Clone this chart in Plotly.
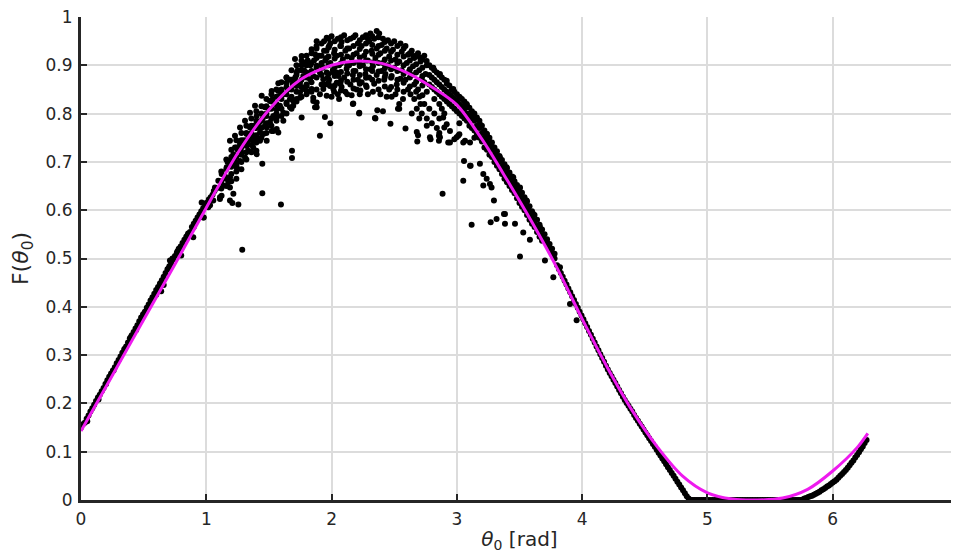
import plotly.graph_objects as go

# ---- fitted curve F(theta0) ----
curve_x = [0.0, 0.25, 0.5, 0.75, 1.0, 1.25, 1.5, 1.75, 2.0, 2.2, 2.4, 2.6, 2.8, 3.0,
           3.2, 3.4, 3.6, 3.8, 4.0, 4.2, 4.4, 4.6, 4.8, 5.0, 5.2, 5.4, 5.6, 5.8, 6.0, 6.2, 6.28]
curve_y = [0.143, 0.258, 0.373, 0.488, 0.605, 0.718, 0.808, 0.870, 0.900, 0.909, 0.904, 0.885,
           0.855, 0.818, 0.747, 0.663, 0.575, 0.480, 0.375, 0.275, 0.185, 0.110, 0.050, 0.015,
           0.002, 0.0, 0.004, 0.022, 0.060, 0.110, 0.138]

# ---- measured points, grouped by region ----
dots_rise = [(0.00, 0.150), (0.03, 0.160), (0.06, 0.175), (0.09, 0.190), (0.12, 0.205), (0.15, 0.218),
             (0.18, 0.232), (0.21, 0.248), (0.24, 0.262), (0.27, 0.275), (0.30, 0.290), (0.33, 0.305),
             (0.36, 0.318), (0.39, 0.335), (0.42, 0.348), (0.45, 0.362), (0.48, 0.378), (0.51, 0.390),
             (0.54, 0.405), (0.57, 0.420), (0.60, 0.435), (0.63, 0.448), (0.66, 0.462), (0.69, 0.478),
             (0.72, 0.490), (0.75, 0.505), (0.78, 0.520), (0.81, 0.532), (0.84, 0.545), (0.87, 0.555),
             (0.90, 0.572), (0.93, 0.585), (0.96, 0.598), (0.99, 0.610), (1.02, 0.622), (1.05, 0.632),
             (1.08, 0.645), (0.05, 0.163), (0.14, 0.208), (0.20, 0.240), (0.26, 0.268), (0.35, 0.313),
             (0.40, 0.338), (0.44, 0.352), (0.50, 0.385), (0.56, 0.410), (0.60, 0.425), (0.62, 0.440),
             (0.64, 0.432), (0.66, 0.445), (0.70, 0.480), (0.73, 0.500), (0.77, 0.515), (0.80, 0.520),
             (0.85, 0.548), (0.90, 0.565), (0.95, 0.590), (0.98, 0.585), (1.00, 0.615), (1.03, 0.610),
             (1.06, 0.640), (0.71, 0.496), (0.80, 0.506), (0.896, 0.544), (0.976, 0.585), (1.016, 0.606),
             (0.963, 0.616), (1.109, 0.623), (1.122, 0.630), (1.069, 0.647), (1.176, 0.658),
             (0.015, 0.157), (0.045, 0.168), (0.075, 0.183), (0.105, 0.197), (0.135, 0.212),
             (0.165, 0.225), (0.195, 0.240), (0.225, 0.255), (0.255, 0.268), (0.285, 0.283),
             (0.315, 0.297), (0.345, 0.312), (0.375, 0.326), (0.405, 0.341), (0.435, 0.355),
             (0.465, 0.370), (0.495, 0.384), (0.525, 0.398), (0.555, 0.413), (0.585, 0.427),
             (0.615, 0.441), (0.645, 0.455), (0.675, 0.470), (0.705, 0.484), (0.735, 0.498),
             (0.765, 0.512), (0.795, 0.525), (0.825, 0.539), (0.855, 0.552), (0.885, 0.565),
             (0.915, 0.578), (0.945, 0.591), (0.975, 0.604), (1.005, 0.615), (1.035, 0.627),
             (1.065, 0.640)]

dots_shoulder = [(1.096, 0.661), (1.123, 0.675), (1.163, 0.689), (1.189, 0.702), (1.216, 0.716),
                 (1.229, 0.730), (1.269, 0.737), (1.322, 0.758), (1.349, 0.771), (1.402, 0.795),
                 (1.468, 0.813), (1.508, 0.826), (1.575, 0.847), (1.641, 0.864), (1.721, 0.885),
                 (1.788, 0.906), (1.868, 0.923), (1.136, 0.651), (1.189, 0.668), (1.243, 0.689),
                 (1.269, 0.702), (1.309, 0.709), (1.335, 0.723), (1.375, 0.730), (1.402, 0.716),
                 (1.429, 0.744), (1.375, 0.744), (1.455, 0.758), (1.482, 0.771), (1.535, 0.764),
                 (1.562, 0.792), (1.615, 0.785), (1.668, 0.813), (1.694, 0.826), (1.748, 0.833),
                 (1.761, 0.792), (1.801, 0.847), (1.854, 0.826), (1.881, 0.813), (1.189, 0.647),
                 (1.216, 0.634), (1.189, 0.620), (1.109, 0.627), (1.056, 0.620), (1.189, 0.744),
                 (1.229, 0.754), (1.269, 0.771), (1.309, 0.785), (1.349, 0.802), (1.389, 0.816),
                 (1.442, 0.837), (1.522, 0.847), (1.575, 0.863), (1.641, 0.875), (1.708, 0.913),
                 (1.761, 0.919), (1.841, 0.933), (1.881, 0.950), (1.961, 0.957), (1.322, 0.733),
                 (1.362, 0.747), (1.402, 0.751), (1.429, 0.761), (1.468, 0.775), (1.508, 0.782),
                 (1.535, 0.795), (1.562, 0.809), (1.588, 0.816), (1.615, 0.802), (1.641, 0.823),
                 (1.668, 0.830), (1.694, 0.816), (1.721, 0.830), (1.748, 0.844), (1.774, 0.851),
                 (1.801, 0.857), (1.841, 0.851), (1.854, 0.833), (1.881, 0.823), (1.868, 0.813),
                 (1.907, 0.840), (1.934, 0.851), (1.961, 0.837), (1.987, 0.857), (2.014, 0.851),
                 (2.041, 0.864), (1.828, 0.871), (1.854, 0.878), (1.801, 0.885), (1.774, 0.878),
                 (1.748, 0.864), (1.721, 0.857), (1.881, 0.899), (1.907, 0.885), (1.961, 0.885),
                 (1.934, 0.871), (2.014, 0.885), (2.054, 0.878), (1.562, 0.768), (1.575, 0.761),
                 (1.522, 0.764), (1.482, 0.744), (1.15, 0.670), (1.17, 0.700), (1.20, 0.690),
                 (1.23, 0.700), (1.25, 0.725), (1.28, 0.720), (1.30, 0.745), (1.33, 0.740),
                 (1.36, 0.760), (1.38, 0.775), (1.42, 0.780), (1.45, 0.790), (1.48, 0.800),
                 (1.50, 0.810), (1.53, 0.830), (1.55, 0.820), (1.58, 0.835), (1.60, 0.850),
                 (1.62, 0.840), (1.65, 0.850), (1.67, 0.870), (1.69, 0.860), (1.71, 0.875),
                 (1.73, 0.890), (1.76, 0.900), (1.78, 0.890), (1.81, 0.910), (1.83, 0.900),
                 (1.86, 0.910), (1.88, 0.935), (1.90, 0.920), (1.92, 0.905), (1.94, 0.930),
                 (1.96, 0.915), (1.98, 0.940),
                 (1.12, 0.68), (1.12, 0.66), (1.12, 0.645), (1.16, 0.705), (1.16, 0.685),
                 (1.16, 0.665), (1.16, 0.65), (1.20, 0.725), (1.20, 0.71), (1.20, 0.695),
                 (1.20, 0.675), (1.20, 0.66), (1.24, 0.745), (1.24, 0.73), (1.24, 0.71),
                 (1.24, 0.695), (1.24, 0.68), (1.24, 0.665), (1.28, 0.76), (1.28, 0.745),
                 (1.28, 0.73), (1.28, 0.715), (1.28, 0.70), (1.28, 0.685), (1.32, 0.775),
                 (1.32, 0.76), (1.32, 0.745), (1.32, 0.72), (1.32, 0.705), (1.36, 0.79),
                 (1.36, 0.775), (1.36, 0.755), (1.36, 0.735), (1.36, 0.72), (1.40, 0.805),
                 (1.40, 0.785), (1.40, 0.77), (1.40, 0.755), (1.40, 0.74), (1.44, 0.815),
                 (1.44, 0.80), (1.44, 0.785), (1.44, 0.77), (1.44, 0.75), (1.48, 0.83),
                 (1.48, 0.815), (1.48, 0.795), (1.48, 0.78), (1.48, 0.76), (1.52, 0.84),
                 (1.52, 0.825), (1.52, 0.81), (1.52, 0.79), (1.52, 0.775), (1.56, 0.85),
                 (1.56, 0.835), (1.56, 0.82), (1.56, 0.80), (1.56, 0.785), (1.60, 0.865),
                 (1.60, 0.845), (1.60, 0.83), (1.60, 0.81), (1.60, 0.795), (1.64, 0.875),
                 (1.64, 0.855), (1.64, 0.84), (1.64, 0.82), (1.64, 0.80), (1.68, 0.89),
                 (1.68, 0.87), (1.68, 0.85), (1.68, 0.835), (1.68, 0.81), (1.72, 0.90),
                 (1.72, 0.88), (1.72, 0.865), (1.72, 0.845), (1.72, 0.825), (1.76, 0.91),
                 (1.76, 0.89), (1.76, 0.87), (1.76, 0.855), (1.76, 0.835), (1.80, 0.92),
                 (1.80, 0.90), (1.80, 0.875), (1.80, 0.86), (1.80, 0.84), (1.84, 0.925),
                 (1.84, 0.905), (1.84, 0.888), (1.84, 0.865), (1.84, 0.845), (1.88, 0.94),
                 (1.88, 0.915), (1.88, 0.895), (1.88, 0.875), (1.88, 0.85), (1.92, 0.945),
                 (1.92, 0.92), (1.92, 0.90), (1.92, 0.88), (1.92, 0.86)]

dots_stray = [(1.287, 0.518), (1.447, 0.635), (1.596, 0.612), (1.256, 0.612), (1.208, 0.615),
              (1.684, 0.723), (1.684, 0.708), (1.447, 0.696), (1.907, 0.754), (1.947, 0.793),
              (1.40, 0.723), (1.99, 0.780), (2.173, 0.821), (2.221, 0.802), (2.346, 0.791),
              (2.365, 0.807), (2.54, 0.810), (2.47, 0.779), (2.68, 0.762), (2.69, 0.755),
              (2.79, 0.747), (2.86, 0.760), (2.90, 0.771), (2.98, 0.747), (3.02, 0.757),
              (2.684, 0.742), (2.785, 0.751), (2.857, 0.754), (2.857, 0.744), (2.945, 0.740),
              (2.998, 0.751), (3.051, 0.740), (2.886, 0.634), (3.057, 0.702), (3.051, 0.661),
              (3.11, 0.692), (3.211, 0.651), (3.118, 0.570), (3.27, 0.575), (3.317, 0.582),
              (3.376, 0.592), (3.504, 0.504), (3.583, 0.539), (3.296, 0.620), (3.184, 0.696),
              (2.891, 0.792), (2.919, 0.778), (2.945, 0.764), (2.865, 0.751), (2.931, 0.740),
              (3.011, 0.754), (3.065, 0.744), (3.105, 0.740), (3.105, 0.692), (3.238, 0.665),
              (3.264, 0.654), (3.277, 0.647), (3.211, 0.675), (3.384, 0.592), (3.384, 0.572),
              (3.464, 0.572), (3.53, 0.554), (3.703, 0.496), (3.77, 0.461), (3.903, 0.406),
              (3.956, 0.372)]

dots_peak = [(1.94, 0.95), (1.96, 0.93), (1.95, 0.91), (1.93, 0.895), (1.97, 0.875), (1.95, 0.86),
             (2.00, 0.96), (1.99, 0.945), (2.02, 0.925), (1.99, 0.905), (2.01, 0.89), (1.98, 0.87),
             (2.02, 0.845), (2.05, 0.955), (2.07, 0.94), (2.04, 0.92), (2.06, 0.90), (2.04, 0.885),
             (2.07, 0.862), (2.05, 0.84), (2.10, 0.962), (2.08, 0.948), (2.11, 0.93), (2.09, 0.912),
             (2.12, 0.893), (2.10, 0.875), (2.08, 0.855), (2.15, 0.955), (2.14, 0.935), (2.16, 0.915),
             (2.14, 0.90), (2.17, 0.88), (2.15, 0.86), (2.17, 0.82), (2.19, 0.962), (2.21, 0.945),
             (2.20, 0.925), (2.22, 0.905), (2.19, 0.888), (2.21, 0.87), (2.20, 0.85), (2.22, 0.80),
             (2.25, 0.958), (2.24, 0.94), (2.26, 0.92), (2.25, 0.90), (2.27, 0.882), (2.24, 0.865),
             (2.29, 0.955), (2.31, 0.966), (2.30, 0.95), (2.32, 0.93), (2.29, 0.91), (2.31, 0.892),
             (2.30, 0.875), (2.28, 0.855), (2.36, 0.971), (2.34, 0.955), (2.36, 0.935), (2.35, 0.915),
             (2.33, 0.898), (2.36, 0.88), (2.34, 0.862), (2.35, 0.79), (2.38, 0.966), (2.41, 0.955),
             (2.40, 0.942), (2.39, 0.925), (2.41, 0.905), (2.40, 0.888), (2.42, 0.87), (2.41, 0.805),
             (2.45, 0.952), (2.44, 0.935), (2.46, 0.918), (2.45, 0.90), (2.43, 0.882), (2.44, 0.835),
             (2.50, 0.95), (2.49, 0.932), (2.51, 0.912), (2.50, 0.895), (2.48, 0.878), (2.52, 0.86),
             (2.48, 0.835), (2.55, 0.945), (2.56, 0.928), (2.54, 0.908), (2.56, 0.89), (2.55, 0.872),
             (2.53, 0.81), (2.54, 0.82), (2.59, 0.94), (2.61, 0.922), (2.60, 0.905), (2.62, 0.888),
             (2.59, 0.87), (2.61, 0.85), (2.59, 0.769), (2.64, 0.93), (2.66, 0.915), (2.65, 0.898),
             (2.64, 0.88), (2.66, 0.86), (2.69, 0.925), (2.71, 0.908), (2.70, 0.89), (2.72, 0.872),
             (2.69, 0.85), (2.71, 0.82), (2.74, 0.92), (2.76, 0.90), (2.75, 0.882), (2.74, 0.865),
             (2.76, 0.845), (2.66, 0.83), (2.68, 0.81), (2.70, 0.835), (2.72, 0.80), (2.74, 0.82),
             (2.76, 0.79), (2.78, 0.81), (2.80, 0.78), (2.82, 0.80), (2.84, 0.77), (2.86, 0.79),
             (2.88, 0.81), (2.76, 0.775), (2.70, 0.79), (2.64, 0.80),
             (1.975, 0.955), (1.975, 0.937), (1.975, 0.918), (1.975, 0.90), (1.975, 0.882),
             (1.975, 0.864), (2.025, 0.95), (2.025, 0.932), (2.025, 0.914), (2.025, 0.896),
             (2.025, 0.878), (2.025, 0.858), (2.075, 0.958), (2.075, 0.94), (2.075, 0.922),
             (2.075, 0.904), (2.075, 0.886), (2.075, 0.868), (2.075, 0.848), (2.125, 0.952),
             (2.125, 0.935), (2.125, 0.918), (2.125, 0.90), (2.125, 0.883), (2.125, 0.866),
             (2.125, 0.84), (2.175, 0.958), (2.175, 0.94), (2.175, 0.922), (2.175, 0.905),
             (2.175, 0.888), (2.175, 0.87), (2.175, 0.852), (2.225, 0.952), (2.225, 0.934),
             (2.225, 0.916), (2.225, 0.898), (2.225, 0.88), (2.225, 0.862), (2.225, 0.84),
             (2.275, 0.962), (2.275, 0.945), (2.275, 0.928), (2.275, 0.91), (2.275, 0.892),
             (2.275, 0.874), (2.275, 0.858), (2.325, 0.96), (2.325, 0.942), (2.325, 0.924),
             (2.325, 0.906), (2.325, 0.888), (2.325, 0.87), (2.375, 0.958), (2.375, 0.94),
             (2.375, 0.922), (2.375, 0.905), (2.375, 0.887), (2.375, 0.868), (2.375, 0.85),
             (2.425, 0.948), (2.425, 0.93), (2.425, 0.912), (2.425, 0.894), (2.425, 0.876),
             (2.425, 0.856), (2.475, 0.945), (2.475, 0.928), (2.475, 0.91), (2.475, 0.892),
             (2.475, 0.874), (2.475, 0.855), (2.525, 0.94), (2.525, 0.922), (2.525, 0.905),
             (2.525, 0.888), (2.525, 0.87), (2.525, 0.85), (2.575, 0.935), (2.575, 0.918),
             (2.575, 0.90), (2.575, 0.882), (2.575, 0.864), (2.575, 0.845), (2.625, 0.925),
             (2.625, 0.91), (2.625, 0.892), (2.625, 0.875), (2.625, 0.856), (2.675, 0.92),
             (2.675, 0.902), (2.675, 0.885), (2.675, 0.866), (2.675, 0.845), (2.725, 0.912),
             (2.725, 0.895), (2.725, 0.878), (2.725, 0.858), (2.725, 0.838),
             (2.00, 0.835), (2.06, 0.83), (2.11, 0.845), (2.16, 0.838), (2.23, 0.848),
             (2.29, 0.84), (2.33, 0.845), (2.39, 0.84), (2.46, 0.85), (2.51, 0.84),
             (2.57, 0.83), (2.63, 0.84)]

dots_fall = [(2.652, 0.919), (2.705, 0.916), (2.759, 0.909), (2.812, 0.895), (2.865, 0.882),
             (2.919, 0.868), (2.971, 0.851), (3.025, 0.833), (3.078, 0.820), (3.131, 0.799),
             (3.184, 0.778), (3.238, 0.758), (3.29, 0.730), (3.344, 0.709), (3.397, 0.689),
             (3.45, 0.668), (3.504, 0.647), (3.557, 0.620), (3.61, 0.592), (3.663, 0.565),
             (3.717, 0.537), (3.77, 0.510), (3.823, 0.482),
             (2.78, 0.90), (2.78, 0.88), (2.78, 0.86), (2.82, 0.89), (2.82, 0.87), (2.82, 0.85),
             (2.82, 0.83), (2.86, 0.88), (2.86, 0.86), (2.86, 0.84), (2.86, 0.82), (2.90, 0.87),
             (2.90, 0.85), (2.90, 0.83), (2.90, 0.80), (2.94, 0.858), (2.94, 0.84), (2.94, 0.82),
             (2.98, 0.845), (2.98, 0.83), (2.98, 0.81), (3.02, 0.835), (3.02, 0.82), (3.02, 0.80),
             (3.02, 0.78), (3.06, 0.825), (3.06, 0.81), (3.06, 0.79), (3.10, 0.812), (3.10, 0.795),
             (3.10, 0.775), (3.14, 0.80), (3.14, 0.785), (3.14, 0.765), (3.14, 0.75), (3.18, 0.785),
             (3.18, 0.77), (3.18, 0.75), (3.22, 0.765), (3.22, 0.75), (3.22, 0.73), (3.26, 0.75),
             (3.26, 0.735), (3.26, 0.715), (3.30, 0.73), (3.30, 0.715), (3.30, 0.70), (3.34, 0.712),
             (3.34, 0.70), (3.34, 0.685), (3.38, 0.695), (3.38, 0.68), (3.38, 0.665), (3.42, 0.678),
             (3.42, 0.665), (3.42, 0.65), (3.46, 0.66), (3.46, 0.648), (3.46, 0.635), (3.50, 0.645),
             (3.50, 0.63), (3.50, 0.615), (3.54, 0.627), (3.54, 0.612), (3.54, 0.60), (3.58, 0.608),
             (3.58, 0.595), (3.58, 0.58), (3.62, 0.59), (3.62, 0.577), (3.62, 0.565), (3.66, 0.57),
             (3.66, 0.558), (3.66, 0.545), (3.70, 0.55), (3.70, 0.54), (3.74, 0.53), (3.74, 0.52),
             (3.78, 0.51), (3.78, 0.50),
             (2.80, 0.895), (2.80, 0.875), (2.80, 0.855), (2.84, 0.885), (2.84, 0.865),
             (2.84, 0.845), (2.88, 0.875), (2.88, 0.855), (2.88, 0.835), (2.92, 0.862),
             (2.92, 0.845), (2.92, 0.825), (2.96, 0.85), (2.96, 0.835), (2.96, 0.815),
             (3.00, 0.84), (3.00, 0.825), (3.00, 0.805), (3.04, 0.83), (3.04, 0.815),
             (3.04, 0.795), (3.08, 0.818), (3.08, 0.80), (3.08, 0.785), (3.12, 0.805),
             (3.12, 0.79), (3.12, 0.77), (3.16, 0.792), (3.16, 0.775), (3.16, 0.758),
             (3.20, 0.775), (3.20, 0.76), (3.20, 0.742), (3.24, 0.758), (3.24, 0.742),
             (3.24, 0.725), (3.28, 0.74), (3.28, 0.725), (3.28, 0.71), (3.32, 0.722),
             (3.32, 0.708), (3.32, 0.692), (3.36, 0.704), (3.36, 0.69), (3.36, 0.675),
             (3.40, 0.687), (3.40, 0.672), (3.40, 0.658), (3.44, 0.67), (3.44, 0.656),
             (3.44, 0.642), (3.48, 0.652), (3.48, 0.64), (3.48, 0.625), (3.52, 0.636),
             (3.52, 0.62), (3.52, 0.607), (3.56, 0.618), (3.56, 0.603), (3.56, 0.59),
             (3.60, 0.598), (3.60, 0.585), (3.60, 0.572), (3.64, 0.58), (3.64, 0.568),
             (3.64, 0.555), (3.68, 0.56), (3.68, 0.548), (3.68, 0.537), (3.72, 0.54),
             (3.72, 0.53), (3.76, 0.52), (3.76, 0.51)]

dots_descent = [(3.800, 0.486), (3.815, 0.478), (3.830, 0.470), (3.845, 0.462), (3.860, 0.454),
                (3.875, 0.446), (3.890, 0.438), (3.905, 0.430), (3.920, 0.422), (3.935, 0.414),
                (3.950, 0.406), (3.965, 0.398), (3.980, 0.390), (3.995, 0.382), (4.010, 0.374),
                (4.025, 0.366), (4.040, 0.358), (4.055, 0.350), (4.070, 0.342), (4.085, 0.334),
                (4.100, 0.326), (4.115, 0.318), (4.130, 0.310), (4.145, 0.302), (4.160, 0.294),
                (4.175, 0.286), (4.190, 0.278), (4.205, 0.270), (4.220, 0.263), (4.235, 0.256),
                (4.250, 0.249), (4.265, 0.242), (4.280, 0.235), (4.295, 0.228), (4.310, 0.221),
                (4.325, 0.214), (4.340, 0.207), (4.355, 0.201), (4.370, 0.195), (4.385, 0.189),
                (4.400, 0.183), (4.415, 0.176), (4.430, 0.170), (4.445, 0.164), (4.460, 0.158),
                (4.475, 0.152), (4.490, 0.146), (4.505, 0.140), (4.520, 0.134), (4.535, 0.128),
                (4.550, 0.122), (4.565, 0.116), (4.580, 0.110), (4.595, 0.104), (4.610, 0.098),
                (4.625, 0.092), (4.640, 0.086), (4.655, 0.080), (4.670, 0.074), (4.685, 0.068),
                (4.700, 0.062), (4.715, 0.056), (4.730, 0.050), (4.745, 0.044), (4.760, 0.038),
                (4.775, 0.032), (4.790, 0.026), (4.805, 0.020), (4.820, 0.014), (4.835, 0.008),
                (4.850, 0.003)]

dots_floor = [(4.865, 0.0), (4.88, 0.0), (4.895, 0.0), (4.91, 0.0), (4.925, 0.0), (4.94, 0.0),
              (4.955, 0.0), (4.97, 0.0), (4.985, 0.0), (5.00, 0.0), (5.02, 0.0), (5.04, 0.0),
              (5.06, 0.0), (5.08, 0.0), (5.10, 0.0), (5.12, 0.0), (5.14, 0.0), (5.16, 0.0),
              (5.18, 0.0), (5.20, 0.0), (5.22, 0.0), (5.24, 0.0), (5.26, 0.0), (5.28, 0.0),
              (5.30, 0.0), (5.32, 0.0), (5.34, 0.0), (5.36, 0.0), (5.38, 0.0), (5.40, 0.0),
              (5.42, 0.0), (5.44, 0.0), (5.46, 0.0), (5.48, 0.0), (5.50, 0.0), (5.52, 0.0),
              (5.54, 0.0), (5.56, 0.0), (5.58, 0.0), (5.60, 0.0), (5.62, 0.0), (5.64, 0.0),
              (5.66, 0.0), (5.68, 0.0), (5.70, 0.0), (5.715, 0.0), (5.73, 0.0), (5.745, 0.0)]

dots_return = [(5.760, 0.001), (5.775, 0.003), (5.790, 0.004), (5.805, 0.006), (5.820, 0.008),
               (5.835, 0.009), (5.850, 0.011), (5.865, 0.013), (5.880, 0.015), (5.895, 0.017),
               (5.910, 0.020), (5.925, 0.022), (5.940, 0.025), (5.955, 0.028), (5.970, 0.030),
               (5.985, 0.033), (6.000, 0.036), (6.015, 0.039), (6.030, 0.042), (6.045, 0.046),
               (6.060, 0.050), (6.075, 0.054), (6.090, 0.058), (6.105, 0.062), (6.120, 0.067),
               (6.135, 0.072), (6.150, 0.077), (6.165, 0.082), (6.180, 0.088), (6.195, 0.093),
               (6.210, 0.099), (6.225, 0.105), (6.240, 0.111), (6.255, 0.118), (6.270, 0.124)]

x_ticks = [0, 1, 2, 3, 4, 5, 6, 7]
y_ticks = [0, 0.1, 0.2, 0.3, 0.4, 0.5, 0.6, 0.7, 0.8, 0.9, 1]
y_tick_labels = ["0", "0.1", "0.2", "0.3", "0.4", "0.5", "0.6", "0.7", "0.8", "0.9", "1"]

all_dots = (dots_rise + dots_shoulder + dots_stray + dots_peak + dots_fall
            + dots_descent + dots_floor + dots_return)
dot_x = [p[0] for p in all_dots]
dot_y = [p[1] for p in all_dots]

INK = "#262626"
FONT = "DejaVu Sans, Liberation Sans, Arial, sans-serif"

fig = go.Figure()
fig.add_trace(go.Scatter(x=dot_x, y=dot_y, mode="markers",
                         marker=dict(color="black", size=6, line=dict(width=0)),
                         cliponaxis=False, showlegend=False))
fig.add_trace(go.Scatter(x=curve_x, y=curve_y, mode="lines",
                         line=dict(color="#ee1aee", width=3, shape="spline", smoothing=0.8),
                         showlegend=False))

axis_common = dict(showline=True, linecolor=INK, linewidth=3, mirror=False,
                   ticks="inside", ticklen=6, tickwidth=2, tickcolor=INK,
                   showgrid=True, gridcolor="#dcdcdc", gridwidth=2, zeroline=False,
                   automargin=False, ticklabeloverflow="allow",
                   tickfont=dict(family=FONT, size=17, color=INK))

# the page body adds an 8 px offset; the figure is sized so the plot area lands
# on the reference's pixels (x: 81-958, y: 17-500)
fig.update_layout(
    width=951, height=545,
    margin=dict(l=73, r=1, t=9, b=53),
    paper_bgcolor="white", plot_bgcolor="white",
    font=dict(family=FONT, size=17, color=INK),
    xaxis=dict(range=[0, 7], tickvals=x_ticks, ticktext=[str(v) for v in x_ticks],
               ticklabelstandoff=2,
               title=dict(text="<i>θ</i><sub>0</sub> [rad]", standoff=6,
                          font=dict(family=FONT, size=20, color=INK)),
               **axis_common),
    yaxis=dict(range=[0, 1], tickvals=y_ticks, ticktext=y_tick_labels,
               ticklabelstandoff=2,
               title=dict(text="F(<i>θ</i><sub>0</sub>)", standoff=16,
                          font=dict(family=FONT, size=22, color=INK)),
               **axis_common),
)

fig.write_html("out.html")
